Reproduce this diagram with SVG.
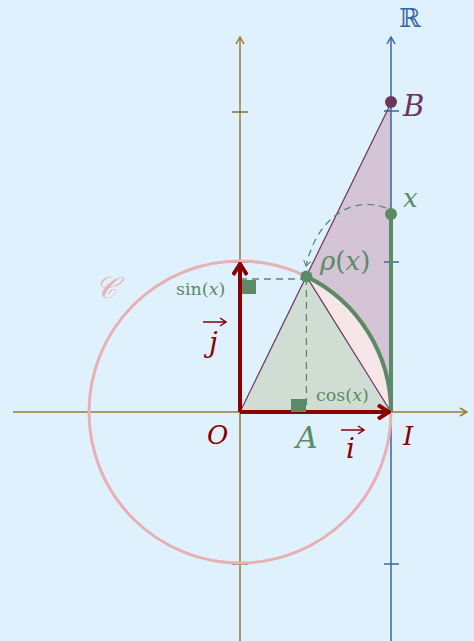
<svg xmlns="http://www.w3.org/2000/svg" width="474" height="641" viewBox="0 0 474 641">
<style>
.axis{stroke:#9a7a30;stroke-width:1.5;fill:none}
.raxis{stroke:#3a66a0;stroke-width:1.5;fill:none}
.tick{stroke:#8a6a30;stroke-width:1.5}
.rtick{stroke:#3a66a0;stroke-width:1.5}
.vec{stroke:#8b0000;stroke-width:4;fill:none}
.grn{fill:#5b8a66}
.dash{stroke:#5b8a66;stroke-width:1.3;stroke-dasharray:7 5;fill:none}
.math{font-family:"DejaVu Serif","Liberation Serif",serif;font-style:italic}
.up{font-family:"DejaVu Serif","Liberation Serif",serif;font-style:normal}
</style>
<defs>
<marker id="axarr" viewBox="0 0 10 10" refX="9" refY="5" markerWidth="10" markerHeight="10" markerUnits="userSpaceOnUse" orient="auto">
<path d="M2 1 L9 5 L2 9" fill="none" stroke="#9a7a30" stroke-width="1.5"/>
</marker>
<marker id="raxarr" viewBox="0 0 10 10" refX="9" refY="5" markerWidth="10" markerHeight="10" markerUnits="userSpaceOnUse" orient="auto">
<path d="M2 1 L9 5 L2 9" fill="none" stroke="#3a66a0" stroke-width="1.5"/>
</marker>
<marker id="vecarr" viewBox="0 0 16 16" refX="14" refY="8" markerWidth="16" markerHeight="16" markerUnits="userSpaceOnUse" orient="auto">
<path d="M3 1 L14 8 L3 15" fill="none" stroke="#8b0000" stroke-width="4" stroke-linejoin="miter"/>
</marker>
<marker id="darr" viewBox="0 0 10 10" refX="8" refY="5" markerWidth="9" markerHeight="9" markerUnits="userSpaceOnUse" orient="auto">
<path d="M2 1 L8 5 L2 9" fill="none" stroke="#5b8a66" stroke-width="1.2"/>
</marker>
</defs>
<rect width="474" height="641" fill="#dff1fd"/>

<g id="fills">
<polygon points="240,412 391,103 391,412" fill="#d5c3d6"/>
<path d="M306.4,276.4 A151,151 0 0 1 391,412 Z" fill="#f7e6e8"/>
<polygon points="240,412 306.4,276.4 391,412" fill="#cfddd3"/>
</g>

<g id="axes">
<line class="axis" x1="13" y1="412" x2="467" y2="412" marker-end="url(#axarr)"/>
<line class="axis" x1="240" y1="641" x2="240" y2="37" marker-end="url(#axarr)"/>
<line class="tick" x1="89" y1="405" x2="89" y2="419"/>
<line class="tick" x1="232" y1="112" x2="248" y2="112"/>
<line class="tick" x1="232" y1="262" x2="248" y2="262"/>
<line class="tick" x1="232" y1="564" x2="248" y2="564"/>
<line class="raxis" x1="391" y1="641" x2="391" y2="37" marker-end="url(#raxarr)"/>
<line class="rtick" x1="384" y1="111" x2="399" y2="111"/>
<line class="rtick" x1="384" y1="262" x2="399" y2="262"/>
<line class="rtick" x1="384" y1="564" x2="399" y2="564"/>
</g>

<g id="circle">
<circle cx="240" cy="412" r="151" fill="none" stroke="#e8b0b2" stroke-width="3"/>
</g>

<g id="connectors">
<line x1="240" y1="412" x2="391" y2="103" stroke="#6a3660" stroke-width="1.2"/>
<line x1="306.4" y1="276.4" x2="391" y2="412" stroke="#6a3660" stroke-width="1.2"/>
<line class="dash" x1="306.4" y1="278" x2="306.4" y2="412"/>
<line class="dash" x1="240" y1="279" x2="306" y2="279"/>
<path class="dash" d="M386,208 C355,196 318,214 306,266" marker-end="url(#darr)"/>
<path d="M306.4,276.4 A151,151 0 0 1 391,412" fill="none" stroke="#5b8a66" stroke-width="4"/>
<line x1="391" y1="412" x2="391" y2="214" stroke="#5b8a66" stroke-width="4"/>
<line class="vec" x1="240" y1="412" x2="389" y2="412" marker-end="url(#vecarr)"/>
<line class="vec" x1="240" y1="412" x2="240" y2="264" marker-end="url(#vecarr)"/>
</g>

<g id="rightangles">
<rect class="grn" x="291" y="399" width="15" height="13"/>
<rect class="grn" x="242" y="280" width="14" height="14"/>
</g>

<g id="points">
<circle cx="306.4" cy="276.4" r="6" fill="#5b8a66"/>
<circle cx="391" cy="214" r="6" fill="#5b8a66"/>
<circle cx="391" cy="102" r="6" fill="#6a3660"/>
</g>

<g id="labels">
<text x="399" y="27" font-family="DejaVu Serif,serif" font-size="26" fill="#3a66a0">ℝ</text>
<text class="math" x="403" y="116" font-size="29" fill="#6a3660">B</text>
<text class="math" x="403" y="207" font-size="26" fill="#5b8a66">x</text>
<text x="320" y="270" font-size="26" fill="#5b8a66"><tspan class="math">ρ</tspan><tspan class="up">(</tspan><tspan class="math">x</tspan><tspan class="up">)</tspan></text>
<text x="176" y="295" font-size="17.5" fill="#5b8a66"><tspan class="up">sin(</tspan><tspan class="math">x</tspan><tspan class="up">)</tspan></text>
<text x="316" y="401" font-size="17.5" fill="#5b8a66"><tspan class="up">cos(</tspan><tspan class="math">x</tspan><tspan class="up">)</tspan></text>
<text x="95" y="298" font-family="DejaVu Serif,serif" font-style="italic" font-size="30" fill="#e8b0b2">𝒞</text>
<text class="math" x="207" y="444" font-size="26" fill="#8b0000">O</text>
<text class="math" x="296" y="448" font-size="30" fill="#5b8a66">A</text>
<text class="math" x="403" y="445" font-size="26" fill="#8b0000">I</text>
<text class="math" x="346" y="458" font-size="28" fill="#8b0000">i</text>
<path d="M341,430 L364,430 M358,426 L364,430 L358,434" fill="none" stroke="#8b0000" stroke-width="1.5"/>
<text class="math" x="209" y="352" font-size="28" fill="#8b0000">j</text>
<path d="M203,322 L226,322 M220,318 L226,322 L220,326" fill="none" stroke="#8b0000" stroke-width="1.5"/>
</g>
</svg>
